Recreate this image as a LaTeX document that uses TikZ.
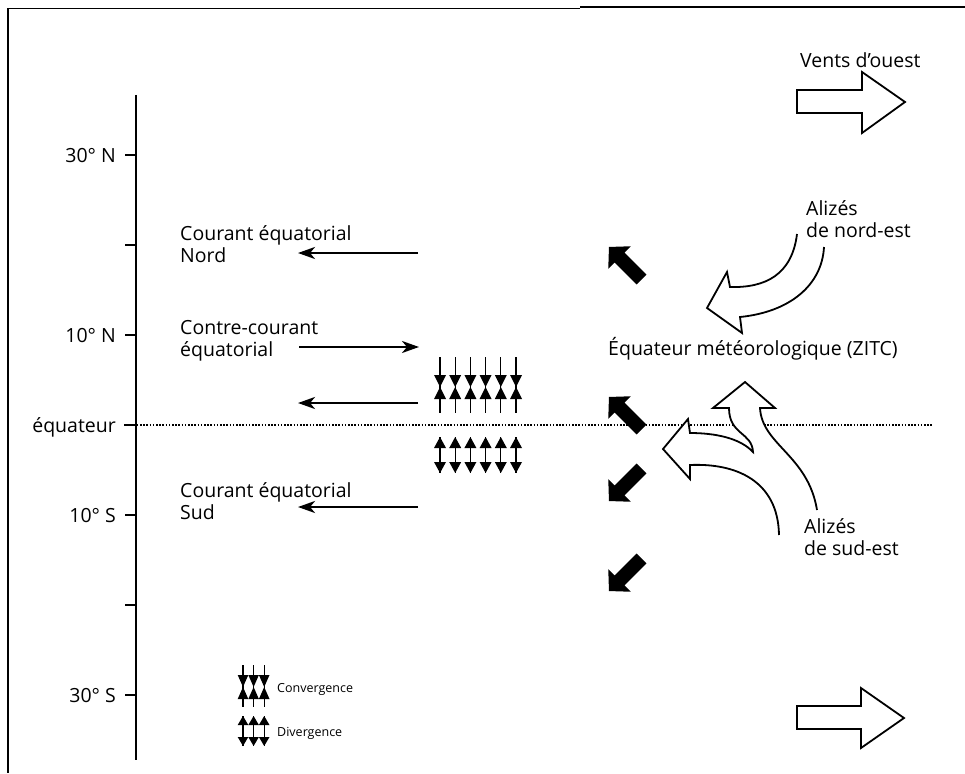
\documentclass[tikz,border=0pt]{standalone}
\usepackage{fontspec}
\setmainfont{Open Sans}
\usetikzlibrary{arrows.meta}
\newcommand\blkarrow[3]{\fill[shift={(#1,#2)},rotate=#3] (0,-7)--(31,-7)--(31,-16)--(46,0)--(31,16)--(31,7)--(0,7)--cycle;}
\begin{document}
\begin{tikzpicture}[x=1pt,y=-1pt,
  lbl/.style={inner sep=0pt, anchor=base west, font=\fontsize{19.5}{22.5}\selectfont},
  axlbl/.style={inner sep=0pt, anchor=base east, font=\fontsize{19.5}{22.5}\selectfont},
  leg/.style={inner sep=0pt, anchor=base west, font=\fontsize{12.5}{14}\selectfont},
  current/.style={line width=2.5pt, -{Stealth[length=17pt,width=12pt,inset=5pt]}},
  hollow/.style={draw, line width=1.8pt, fill=white, line join=miter},
  thinl/.style={line width=1.1pt},
]
\useasboundingbox (0,0) rectangle (965,773);
\fill[white] (0,0) rectangle (965,773);
% frame
\draw[line width=1pt] (8,9) -- (580,9);
\draw[line width=2pt] (580,7.5) -- (965,7.5);
\draw[line width=1.2pt] (8,8.5) -- (8,773);
% axis
\coordinate (axT) at (136,95);
\coordinate (axB) at (136,760);
\draw[line width=2.4pt] (axT) -- (axB);
\foreach \yy in {155,245,335,425,515,605,695}{
  \draw[line width=1.2pt] (125,\yy) -- (136,\yy);
}
\node[axlbl] (l30n) at (116,162) {30° N};
\node[axlbl] (l10n) at (116,342) {10° N};
\node[axlbl] (leq) at (116,432) {équateur};
\node[axlbl] (l10s) at (116,522) {10° S};
\node[axlbl] (l30s) at (116,702) {30° S};
% equator
\coordinate (eqL) at (124,425);
\coordinate (eqR) at (932,425);
\draw[line width=1.3pt, dash pattern=on 1.6pt off 1.6pt] (eqL) -- (eqR);
% currents
\node[lbl] (cn1) at (180,240) {Courant équatorial};
\node[lbl] (cn2) at (180,262.5) {Nord};
\node[lbl] (cc1) at (180,334) {Contre-courant};
\node[lbl] (cc2) at (180,356.5) {équatorial};
\node[lbl] (cs1) at (180,497) {Courant équatorial};
\node[lbl] (cs2) at (180,519.5) {Sud};
\coordinate (a1s) at (418,253); \coordinate (a1e) at (298,253);
\coordinate (a2s) at (299,347); \coordinate (a2e) at (419,347);
\coordinate (a3s) at (418,403); \coordinate (a3e) at (298,403);
\coordinate (a4s) at (418,507); \coordinate (a4e) at (298,507);
\draw[current] (a1s) -- (a1e);
\draw[current] (a2s) -- (a2e);
\draw[current] (a3s) -- (a3e);
\draw[current] (a4s) -- (a4e);
% convergence / divergence block
\foreach \k in {0,...,5}{
  \pgfmathsetmacro\cx{440+15.2*\k}
  \draw[thinl] (\cx,357) -- (\cx,413);
  \fill (\cx-6,375) -- (\cx+6,375) -- (\cx,387) -- cycle;
  \fill (\cx-6,399) -- (\cx+6,399) -- (\cx,387) -- cycle;
  \draw[thinl] (\cx,437) -- (\cx,473);
  \fill (\cx-6,448) -- (\cx+6,448) -- (\cx,437) -- cycle;
  \fill (\cx-6,462) -- (\cx+6,462) -- (\cx,473) -- cycle;
}
% black arrows
\blkarrow{641.5}{279.5}{135}
\blkarrow{641.5}{429.5}{135}
\blkarrow{641.5}{468.5}{225}
\blkarrow{641.5}{558.5}{225}
% westerlies
\node[lbl] (vo) at (800,68) {Vents d'ouest};
\draw[hollow] (797,90) -- (862,90) -- (862,72) -- (905,102) -- (862,133) -- (862,113) -- (797,113) -- cycle;
\draw[hollow] (797,706) -- (861,706) -- (861,688) -- (904,718) -- (861,748) -- (861,729) -- (797,729) -- cycle;
% NE trades
\node[lbl] (ne1) at (806,215) {Alizés};
\node[lbl] (ne2) at (806,237) {de nord-est};
\draw[hollow] (797,234) .. controls (792,275) and (765,288) .. (730,287) -- (727,272) -- (707,308) -- (742,333) -- (740,317) .. controls (790,312) and (822,285) .. (824,247);
% ZITC
\node[lbl] (zitc) at (608,355) {Équateur météorologique (ZITC)};
% SE trades
\draw[hollow] (817,510) .. controls (808,455) and (762,445) .. (760,408) -- (775,408) -- (745,382) -- (713,408) -- (729,408) .. controls (729,435) and (752,432) .. (753,452) .. controls (740,438) and (715,433) .. (690,433) -- (688,419) -- (663,449) -- (690,479) -- (690,465) .. controls (735,463) and (778,480) .. (779,535);
\node[lbl] (se1) at (804,533) {Alizés};
\node[lbl] (se2) at (804,555) {de sud-est};
% legend
\foreach \cx in {243,253.6,264.2}{
  \draw[thinl] (\cx,665) -- (\cx,707);
  \fill (\cx-5.3,675) -- (\cx+5.3,675) -- (\cx,687) -- cycle;
  \fill (\cx-5.3,699) -- (\cx+5.3,699) -- (\cx,687) -- cycle;
  \draw[thinl] (\cx,716) -- (\cx,746);
  \fill (\cx-5.3,725) -- (\cx+5.3,725) -- (\cx,716) -- cycle;
  \fill (\cx-5.3,737) -- (\cx+5.3,737) -- (\cx,746) -- cycle;
}
\node[leg] (lc) at (277,692) {Convergence};
\node[leg] (ld) at (277,736) {Divergence};
\end{tikzpicture}
\end{document}
